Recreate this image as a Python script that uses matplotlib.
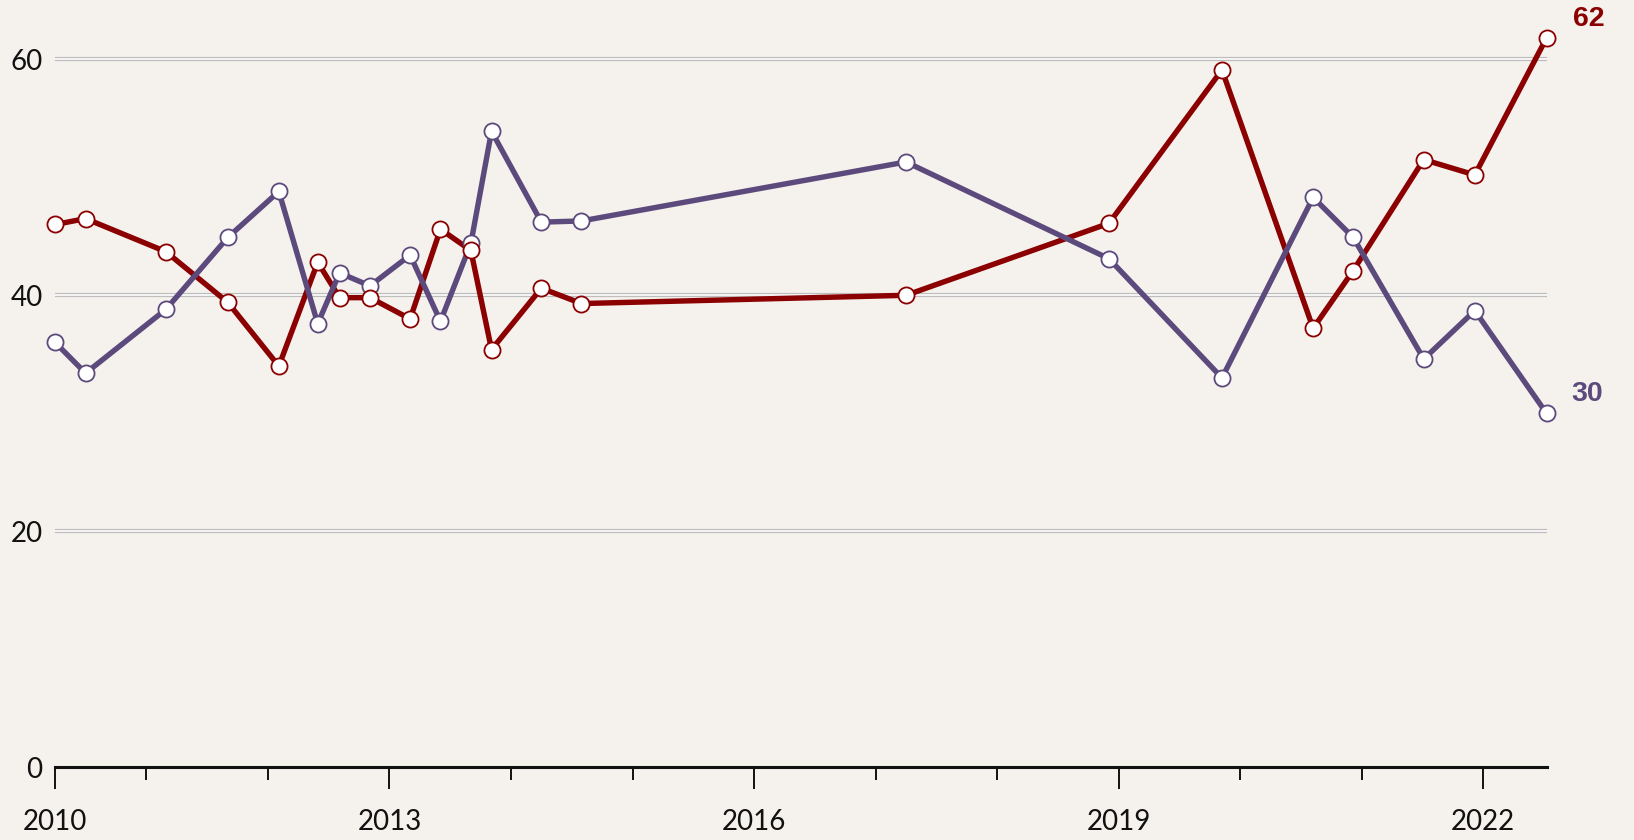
import matplotlib
matplotlib.use("Agg")
import matplotlib.pyplot as plt

# ---- data ----
dates = [2010.25, 2010.50, 2011.16, 2011.67, 2012.09, 2012.41, 2012.59, 2012.84,
         2013.17, 2013.42, 2013.67, 2013.84, 2014.25, 2014.58, 2017.25, 2018.92,
         2019.85, 2020.60, 2020.93, 2021.51, 2021.93, 2022.52]
red_values = [46.0, 46.5, 43.7, 39.4, 34.0, 42.8, 39.8, 39.8, 38.0, 45.6, 43.8,
              35.4, 40.6, 39.3, 40.0, 46.1, 59.1, 37.2, 42.1, 51.5, 50.2, 61.8]
purple_values = [36.0, 33.4, 38.8, 44.9, 48.8, 37.6, 41.9, 40.8, 43.4, 37.8, 44.4,
                 53.9, 46.2, 46.3, 51.3, 43.1, 33.0, 48.3, 44.9, 34.6, 38.7, 30.0]
red_end_label = "62"
purple_end_label = "30"

major_ticks = [2010.25, 2013, 2016, 2019, 2022]
major_labels = ["2010", "2013", "2016", "2019", "2022"]
minor_ticks = [2011, 2012, 2014, 2015, 2017, 2018, 2020, 2021]
y_ticks = [0, 20, 40, 60]
y_labels = ["0", "20", "40", "60"]
grid_levels = [20, 40, 60]

RED = "#8b0000"
PURPLE = "#5c4a7d"
BG = "#f5f2ed"

W, H = 1634, 840
fig = plt.figure(figsize=(W / 100, H / 100), dpi=100, facecolor=BG)
x0, x1 = 55.2, 1546.5
y0px = 767.3
ymax = 65
px_per_unit = 11.8
ax = fig.add_axes([x0 / W, 1 - y0px / H, (x1 - x0) / W, ymax * px_per_unit / H])
ax.set_facecolor(BG)
ax.set_xlim(dates[0], dates[-1])
ax.set_ylim(0, ymax)

for s in ["top", "right", "left"]:
    ax.spines[s].set_visible(False)
ax.spines["bottom"].set_linewidth(2.2)
ax.spines["bottom"].set_color("#111111")

# gridlines (double line look)
for g in grid_levels:
    ax.plot([dates[0], dates[-1]], [g, g], color="#bdbdbd", lw=3.0, zorder=1,
            solid_capstyle="butt")
    ax.plot([dates[0], dates[-1]], [g, g], color="white", lw=1.2, zorder=1.1,
            solid_capstyle="butt")

lw = 3.9
ax.plot(dates, red_values, color=RED, lw=lw, zorder=3, solid_joinstyle="round")
ax.plot(dates, purple_values, color=PURPLE, lw=lw, zorder=4, solid_joinstyle="round")
ax.plot(dates, purple_values, ls="none", marker="o", ms=11.6, mfc="white",
        mec=PURPLE, mew=1.3, zorder=5, clip_on=False)
ax.plot(dates, red_values, ls="none", marker="o", ms=11.6, mfc="white",
        mec=RED, mew=1.3, zorder=6, clip_on=False)

endfont = dict(family=["Liberation Sans", "DejaVu Sans"], weight="bold", size=20.5)
ax.annotate(red_end_label, (dates[-1], red_values[-1]), xytext=(19, 14),
            textcoords="offset points", ha="left", va="center", color=RED,
            annotation_clip=False, **endfont)
ax.annotate(purple_end_label, (dates[-1], purple_values[-1]), xytext=(18, 14),
            textcoords="offset points", ha="left", va="center", color=PURPLE,
            annotation_clip=False, **endfont)

tickfont = ["Lato", "DejaVu Sans"]
ax.set_xticks(major_ticks)
ax.set_xticklabels(major_labels, family=tickfont, fontsize=20)
ax.set_xticks(minor_ticks, minor=True)
ax.tick_params(axis="x", which="major", length=15.8, width=1.4, color="#111111",
               pad=14, labelcolor="#111111")
ax.tick_params(axis="x", which="minor", length=9.7, width=1.4, color="#111111")

ax.set_yticks(y_ticks)
ax.set_yticklabels(y_labels, family=tickfont, fontsize=20)
ax.tick_params(axis="y", length=0, pad=9, labelcolor="#111111")

fig.savefig("out.png", dpi=100, facecolor=BG)
